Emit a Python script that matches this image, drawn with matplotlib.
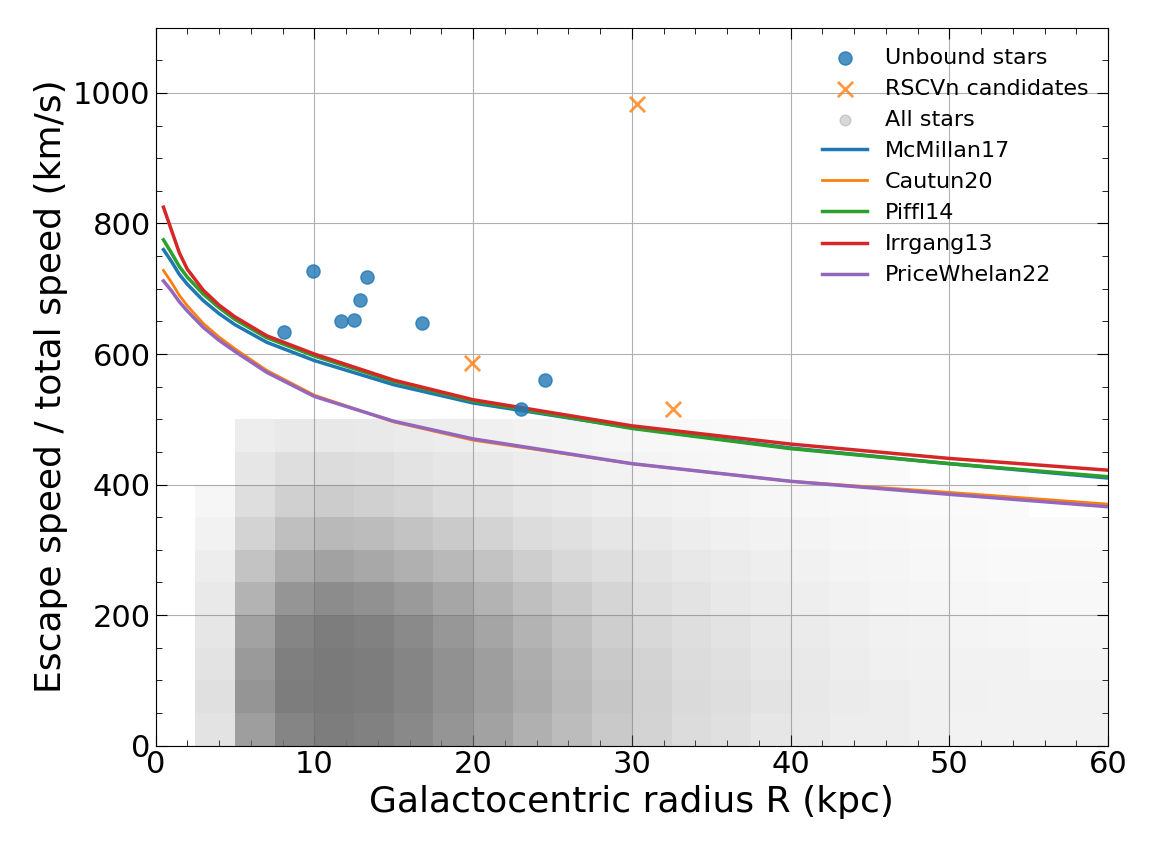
import numpy as np
import matplotlib.pyplot as plt
from matplotlib.colors import LinearSegmentedColormap

# escape-speed curves (R in kpc, v in km/s)
r_curve = [0.5, 1, 1.5, 2, 3, 4, 5, 7, 10, 15, 20, 30, 40, 50, 60]
mcmillan17 = [760, 742, 722, 707, 682, 662, 645, 618, 590, 553, 525, 487, 456, 432, 410]
cautun20 = [728, 710, 690, 674, 647, 626, 608, 575, 537, 496, 468, 432, 405, 388, 370]
piffl14 = [775, 755, 734, 718, 692, 671, 653, 625, 597, 558, 528, 486, 455, 432, 412]
irrgang13 = [825, 790, 755, 730, 698, 675, 657, 628, 600, 560, 530, 490, 462, 440, 422]
pricewhelan22 = [712, 697, 680, 666, 641, 621, 604, 572, 535, 497, 470, 432, 405, 385, 366]

unbound_r = [8.1, 9.9, 11.7, 12.5, 12.9, 13.3, 16.8, 23.0, 24.5]
unbound_v = [633, 727, 651, 652, 683, 718, 648, 515, 560]
rscvn_r = [19.9, 30.3, 32.6]
rscvn_v = [586, 983, 515]

# relative density of "all stars" (rows: speed bins 0-500 step 50, cols: R bins 0-60 step 2.5)
dens_r_edges = np.arange(0, 62.5, 2.5)
dens_v_edges = np.arange(0, 550, 50)
density = np.array([
    [0, .05, .55, .85, .95, .9, .8, .65, .5, .38, .27, .18, .12, .08, .06, .04, .03, .02, .02, .015, .01, .01, .01, .01],
    [0, .06, .65, .95, 1., .95, .85, .7, .55, .42, .3, .2, .13, .09, .07, .05, .035, .025, .02, .015, .012, .01, .01, .01],
    [0, .05, .6, .92, 1., .95, .85, .7, .55, .4, .28, .18, .12, .08, .06, .04, .03, .02, .015, .012, .01, .01, .008, .008],
    [0, .04, .5, .85, .95, .9, .78, .62, .48, .35, .24, .15, .1, .07, .05, .035, .025, .018, .012, .01, .008, .006, .005, .005],
    [0, .03, .35, .65, .75, .7, .6, .47, .35, .25, .17, .11, .07, .05, .035, .025, .018, .012, .008, .006, .005, .004, .003, .003],
    [0, .02, .22, .42, .5, .45, .38, .3, .22, .15, .1, .07, .05, .035, .025, .018, .012, .008, .006, .004, .003, .002, .002, .002],
    [0, .01, .12, .25, .3, .27, .22, .17, .12, .08, .06, .04, .03, .02, .015, .01, .008, .005, .004, .003, .002, .001, .001, .001],
    [0, .005, .07, .14, .16, .14, .11, .08, .06, .04, .03, .02, .015, .01, .008, .005, .004, .003, .002, .001, .001, .001, 0, 0],
    [0, 0, .04, .07, .08, .07, .05, .04, .03, .02, .015, .01, .008, .005, .004, .003, .002, .001, .001, 0, 0, 0, 0, 0],
    [0, 0, .02, .03, .035, .03, .025, .02, .015, .01, .008, .005, .004, .003, .002, .001, 0, 0, 0, 0, 0, 0, 0, 0],
])

fig, ax = plt.subplots(figsize=(11.52, 8.65), dpi=100)

grey_cmap = LinearSegmentedColormap.from_list("g", [(0.5, 0.5, 0.5, 0.0), (0.45, 0.45, 0.45, 0.95)])
ax.pcolormesh(dens_r_edges, dens_v_edges, np.sqrt(density), cmap=grey_cmap,
              vmin=0, vmax=1, shading="flat", zorder=1)

ax.scatter(unbound_r, unbound_v, s=90, color="#1f77b4", alpha=0.8,
           label="Unbound stars", zorder=4)
ax.scatter(rscvn_r, rscvn_v, s=120, marker="x", color="#ff7f0e", alpha=0.8,
           linewidths=2, label="RSCVn candidates", zorder=4)
ax.scatter([], [], s=60, color="grey", alpha=0.3, label="All stars")

ax.plot(r_curve, mcmillan17, color="#1f77b4", lw=2.5, label="McMillan17", zorder=3)
ax.plot(r_curve, cautun20, color="#ff7f0e", lw=2, label="Cautun20", zorder=3)
ax.plot(r_curve, piffl14, color="#2ca02c", lw=2.5, label="Piffl14", zorder=3)
ax.plot(r_curve, irrgang13, color="#d62728", lw=2.5, label="Irrgang13", zorder=3)
ax.plot(r_curve, pricewhelan22, color="#9467bd", lw=2.5, label="PriceWhelan22", zorder=3)

ax.set_xlim(0, 60)
ax.set_ylim(0, 1100)
ax.set_xlabel("Galactocentric radius R (kpc)", fontsize=26)
ax.set_ylabel("Escape speed / total speed (km/s)", fontsize=26)
ax.tick_params(which="both", direction="in", top=True, right=True, labelsize=22)
ax.tick_params(which="major", length=8)
ax.tick_params(which="minor", length=4)
ax.minorticks_on()
ax.grid(True, which="major", zorder=0)
ax.set_axisbelow(True)
ax.legend(loc="upper right", fontsize=16, frameon=False)

plt.subplots_adjust(left=0.135, right=0.962, top=0.968, bottom=0.138)
plt.savefig("out.png", dpi=100)
plt.close()
